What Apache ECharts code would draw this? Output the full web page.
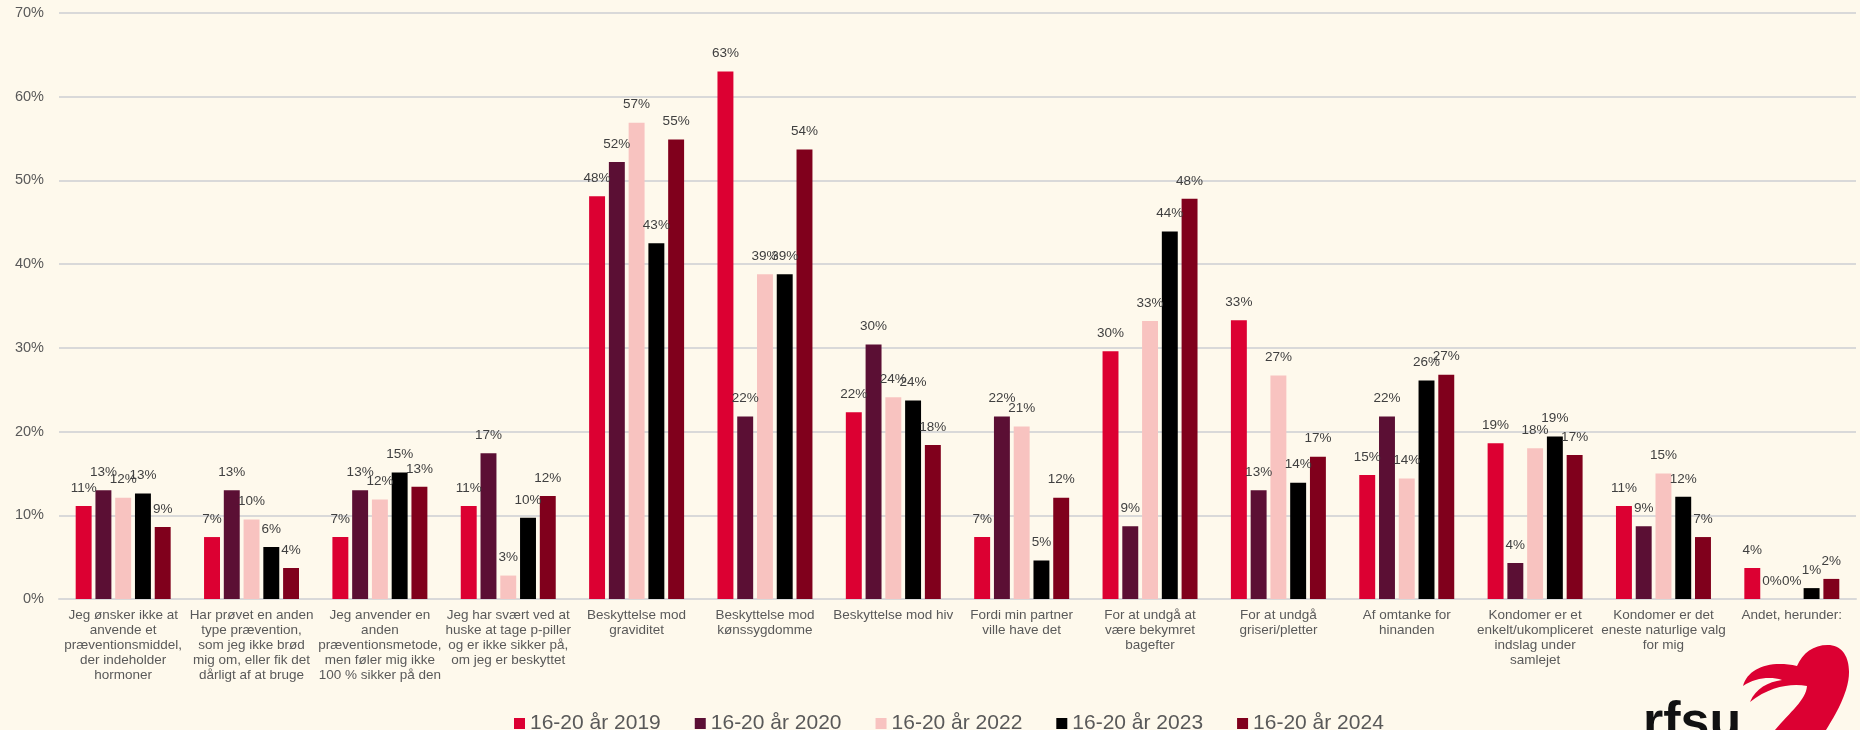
<!DOCTYPE html>
<html>
<head>
<meta charset="utf-8">
<title>Grunde til brug af kondom</title>
<script src="https://cdn.jsdelivr.net/npm/echarts@6/dist/echarts.min.js"></script>
<style>
  html, body { margin: 0; padding: 0; background: #fef9ec; }
  #chart { width: 1860px; height: 730px; }
</style>
</head>
<body>
<div id="chart"></div>
<script>
// kategorier (linjeskift som i originalen)
var categories = [
  'Jeg ønsker ikke at\nanvende et\npræventionsmiddel,\nder indeholder\nhormoner',
  'Har prøvet en anden\ntype prævention,\nsom jeg ikke brød\nmig om, eller fik det\ndårligt af at bruge',
  'Jeg anvender en\nanden\npræventionsmetode,\nmen føler mig ikke\n100 % sikker på den',
  'Jeg har svært ved at\nhuske at tage p-piller\nog er ikke sikker på,\nom jeg er beskyttet',
  'Beskyttelse mod\ngraviditet',
  'Beskyttelse mod\nkønssygdomme',
  'Beskyttelse mod hiv',
  'Fordi min partner\nville have det',
  'For at undgå at\nvære bekymret\nbagefter',
  'For at undgå\ngriseri/pletter',
  'Af omtanke for\nhinanden',
  'Kondomer er et\nenkelt/ukompliceret\nindslag under\nsamlejet',
  'Kondomer er det\neneste naturlige valg\nfor mig',
  'Andet, herunder:'
]

var seriesNames = ['16-20 år 2019', '16-20 år 2020', '16-20 år 2022', '16-20 år 2023', '16-20 år 2024']
var seriesColors = ['#dc0032', '#5b0f34', '#f8c3c0', '#000000', '#80001c']

// procent
var y2019 = [11.1, 7.4, 7.4, 11.1, 48.1, 63.0, 22.3, 7.4, 29.6, 33.3, 14.8, 18.6, 11.1, 3.7]
var y2020 = [13.0, 13.0, 13.0, 17.4, 52.2, 21.8, 30.4, 21.8, 8.7, 13.0, 21.8, 4.3, 8.7, 0]
var y2022 = [12.1, 9.5, 11.9, 2.8, 56.9, 38.8, 24.1, 20.6, 33.2, 26.7, 14.4, 18.0, 15.0, 0]
var y2023 = [12.6, 6.2, 15.1, 9.7, 42.5, 38.8, 23.7, 4.6, 43.9, 13.9, 26.1, 19.4, 12.2, 1.3]
var y2024 = [8.6, 3.7, 13.4, 12.3, 54.9, 53.7, 18.4, 12.1, 47.8, 17.0, 26.8, 17.2, 7.4, 2.4]
var seriesData = [y2019, y2020, y2022, y2023, y2024]

var font = 'Liberation Sans, Arial, sans-serif'

// flammen i logoet som lille svg
var flameSvg = '<svg xmlns="http://www.w3.org/2000/svg" width="110" height="86" viewBox="1742 644 110 86">' +
  '<path fill="#dc0032" d="M1775 730 C1790 712 1806 700 1807 686 C1792 683 1770 686 1750 702 ' +
  'C1756 688 1768 682 1782 680 C1770 676 1755 678 1743 686 ' +
  'C1748 668 1770 660 1797 666 C1803 652 1815 644 1830 645 ' +
  'C1848 647 1853 668 1846 690 C1840 708 1832 720 1826 730 Z"/></svg>'

var myChart = echarts.init(document.getElementById('chart'))

var series = []
for (var i = 0; i < seriesNames.length; i++) {
  series.push({
    name: seriesNames[i],
    type: 'bar',
    data: seriesData[i],
    barGap: '24%',
    barCategoryGap: '26%',
    itemStyle: { color: seriesColors[i] },
    label: {
      show: true,
      position: 'top',
      distance: 11,
      fontFamily: font,
      fontSize: 13.5,
      color: '#404040',
      formatter: function(p) {
        return Math.round(p.value) + '%'
      }
    }
  })
}

var option = {
  backgroundColor: '#fef9ec',
  animation: false,
  textStyle: { fontFamily: font },
  grid: { left: 59, right: 4, top: 13, bottom: 131 },
  legend: {
    data: seriesNames,
    left: 509,
    top: 708,
    itemWidth: 11,
    itemHeight: 11,
    itemGap: 34,
    icon: 'rect',
    textStyle: { fontSize: 21, color: '#595959', fontFamily: font }
  },
  xAxis: {
    type: 'category',
    data: categories,
    axisTick: { show: false },
    axisLine: { lineStyle: { color: '#d9d9d9', width: 2 } },
    axisLabel: {
      interval: 0,
      margin: 9,
      fontSize: 13.5,
      lineHeight: 15,
      color: '#595959',
      fontFamily: font
    }
  },
  yAxis: {
    type: 'value',
    min: 0,
    max: 70,
    interval: 10,
    axisLine: { show: false },
    axisTick: { show: false },
    splitLine: { lineStyle: { color: '#d9d9d9', width: 2 } },
    axisLabel: {
      margin: 15,
      fontSize: 14.5,
      color: '#595959',
      fontFamily: font,
      formatter: '{value}%'
    }
  },
  series: series,
  // rfsu-logo nederst til højre
  graphic: [
    {
      type: 'text',
      left: 1643,
      top: 698,
      style: {
        text: 'rfsu',
        font: 'bold 52px ' + font,
        fill: '#111111'
      }
    },
    {
      type: 'image',
      left: 1742,
      top: 644,
      style: {
        image: 'data:image/svg+xml;charset=utf-8,' + encodeURIComponent(flameSvg),
        width: 110,
        height: 86
      }
    }
  ]
}

if (option && typeof option === 'object') {
  myChart.setOption(option, true)
}
window.onresize = () => {
  myChart.resize()
}
</script>
</body>
</html>
